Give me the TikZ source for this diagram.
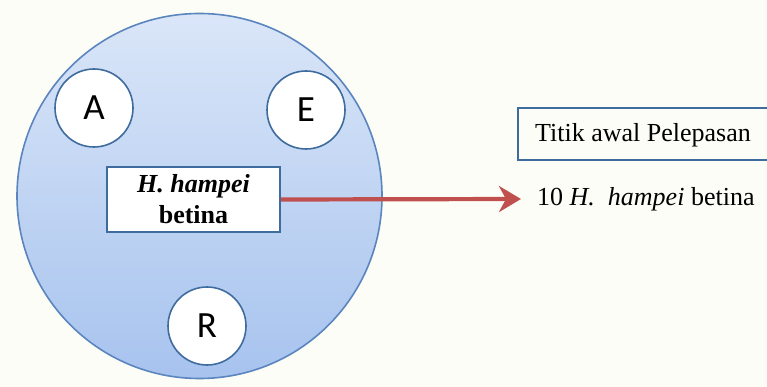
\documentclass[tikz,border=0pt]{standalone}
\usepackage{fontspec}
\setmainfont{Liberation Serif}
\newfontfamily\calib{Carlito}
\usetikzlibrary{arrows.meta}
\definecolor{bgc}{HTML}{FDFDF7}
\definecolor{bigtop}{HTML}{DAE6F8}
\definecolor{bigbot}{HTML}{A7C3EE}
\definecolor{bigedge}{HTML}{5A85BE}
\definecolor{darkedge}{HTML}{3F6C9E}
\definecolor{arrred}{HTML}{C0504D}
\tikzset{
  smallcirc/.style={circle, draw=darkedge, line width=1.6pt, fill=white, minimum size=78pt, inner sep=0pt, font=\calib\fontsize{37}{37}\selectfont},
  whitebox/.style={rectangle, draw=darkedge, line width=1.8pt, fill=white},
  redarrow/.style={draw=arrred, line width=4.2pt, -{Stealth[length=22pt,width=26pt,inset=7pt]}}
}
\begin{document}
\begin{tikzpicture}[x=1pt,y=-1pt]
\useasboundingbox (0,0) rectangle (767,387);
\fill[bgc] (0,0) rectangle (767,387);
% big circle
\shade[top color=bigtop, bottom color=bigbot, draw=bigedge, line width=1.6pt] (199.5,196) circle (182.5pt);
\coordinate (bigc) at (199.5,196);
% small circles
\node[smallcirc] (A) at (94,108) {A};
\node[smallcirc] (E) at (306,110) {E};
\node[smallcirc] (R) at (207,326) {R};
% central box
\node[whitebox, minimum width=173pt, minimum height=65pt, align=center, inner sep=0pt,
      font=\bfseries\fontsize{26}{31}\selectfont] (box) at (193.5,199.5)
  {\textit{H. hampei}\\betina};
% right box (open at the right, cut by the picture edge)
\node[anchor=west, inner sep=0pt, font=\fontsize{26}{30}\selectfont] (titik) at (535,135) {Titik awal Pelepasan};
\coordinate (tr) at (767,108);
\coordinate (br) at (767,160);
\draw[darkedge, line width=1.8pt] (tr) -| ([xshift=-17pt]titik.west |- br) -- (br);
% label
\node[anchor=west, inner sep=0pt, font=\fontsize{26}{30}\selectfont] (lbl) at (537,199)
  {10 \textit{H.}\ \ \textit{hampei} betina};
\draw[redarrow] (box.east) -- ([xshift=-16pt]lbl.west);
\end{tikzpicture}
\end{document}
